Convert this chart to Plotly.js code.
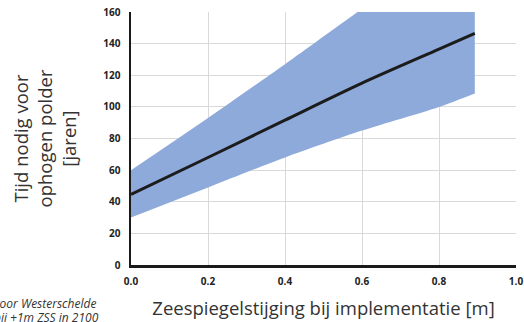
<!DOCTYPE html>
<html>
<head>
<meta charset="utf-8">
<script src="https://cdn.plot.ly/plotly-3.0.1.min.js"></script>
<style>html,body{margin:0;padding:0;background:#fff;}#chart{width:524px;height:322px;}</style>
</head>
<body>
<div id="chart"></div>
<script>
// Data
const xBand = [0, 0.2, 0.4, 0.6, 0.8, 0.893];
const bandLower = [30, 49, 68, 85, 100, 108.5];
const bandUpper = [60, 93, 127, 162, 196, 212];
const xLine = [0, 0.2, 0.4, 0.6, 0.8, 0.893];
const yLine = [44.6, 68, 91.6, 115, 136.5, 146.5];
const xTicks = [0, 0.2, 0.4, 0.6, 0.8, 1.0];
const yTicks = [0, 20, 40, 60, 80, 100, 120, 140, 160];
const xTitle = 'Zeespiegelstijging bij implementatie [m]';
const yTitle = 'Tijd nodig voor<br>ophogen polder<br>[jaren]';
const sideNotes = ['voor Westerschelde', 'bij +1m ZSS in 2100'];

const bandColor = '#8eaadb';
const traces = [
  {x: xBand, y: bandLower, mode: 'lines', line: {width: 0, color: bandColor, shape: 'spline', smoothing: 0.8}, hoverinfo: 'skip', showlegend: false},
  {x: xBand, y: bandUpper, mode: 'lines', line: {width: 0, color: bandColor, shape: 'spline', smoothing: 0.8}, fill: 'tonexty', fillcolor: bandColor, hoverinfo: 'skip', showlegend: false},
  {x: xLine, y: yLine, mode: 'lines', line: {width: 3, color: '#1c1c1c', shape: 'spline', smoothing: 0.8}, showlegend: false}
];

const tickFont = {family: 'Open Sans, sans-serif', size: 10, color: '#222', weight: 'bold'};
const titleFont = {family: 'Open Sans, sans-serif', size: 18.5, color: '#333'};
const noteFont = {family: 'Open Sans, sans-serif', size: 12, color: '#333', style: 'italic'};

const layout = {
  width: 524, height: 322,
  margin: {l: 131, r: 8, t: 12, b: 57},
  paper_bgcolor: '#fff', plot_bgcolor: '#fff',
  showlegend: false,
  xaxis: {
    range: [0, 1], tickvals: xTicks, ticktext: xTicks.map(v => v.toFixed(1)),
    showgrid: true, gridcolor: '#d9d9d9', gridwidth: 1,
    showline: true, linecolor: '#1a1a1a', linewidth: 2.5,
    zeroline: false, ticks: '', tickfont: tickFont, ticklabelstandoff: 5,
    title: {text: xTitle, font: titleFont, standoff: 16}
  },
  yaxis: {
    range: [0, 160], tickvals: yTicks,
    showgrid: true, gridcolor: '#d9d9d9', gridwidth: 1,
    showline: true, linecolor: '#1a1a1a', linewidth: 2.5,
    zeroline: false, ticks: '', tickfont: tickFont, ticklabelstandoff: 6,
    title: {text: yTitle, font: titleFont, standoff: 22}
  },
  annotations: [
    {xref: 'paper', yref: 'paper', x: (98 - 131) / 385, y: (322 - 57 - 303) / 253, xanchor: 'right', yanchor: 'middle',
     text: sideNotes[0], showarrow: false, font: noteFont},
    {xref: 'paper', yref: 'paper', x: (101 - 131) / 385, y: (322 - 57 - 317) / 253, xanchor: 'right', yanchor: 'middle',
     text: sideNotes[1], showarrow: false, font: noteFont}
  ]
};

Plotly.newPlot('chart', traces, layout, {displayModeBar: false, staticPlot: true});
</script>
</body>
</html>
